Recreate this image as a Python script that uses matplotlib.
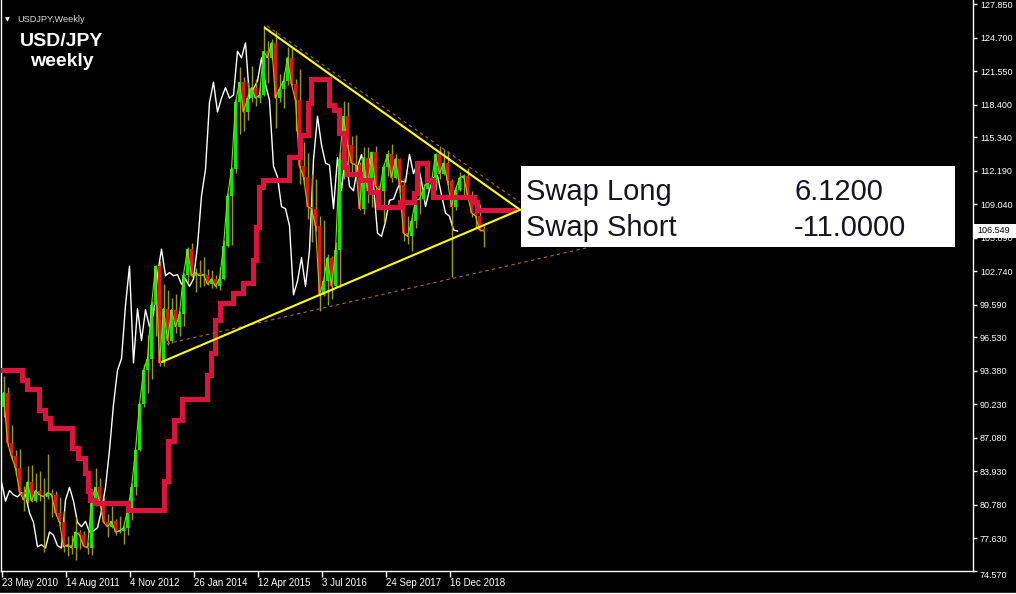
import numpy as np
import matplotlib
matplotlib.use("Agg")
import matplotlib.pyplot as plt
from matplotlib.patches import Rectangle
from matplotlib.lines import Line2D

plt.rcParams['font.family'] = ['Liberation Sans', 'DejaVu Sans']

# 4-week bars of USDJPY, first bar starts 23 May 2010 (x unit = weeks)
first_open = 90.0
highs = [92.9, 91.8, 88.3, 85.9, 86.0, 82.5, 84.4, 84.5, 83.7, 83.9,
         83.3, 85.5, 82.2, 82.1, 81.5, 80.2, 77.8, 77.9, 79.6, 78.4,
         78.3, 77.3, 81.4, 84.2, 83.3, 81.5, 79.9, 80.6, 79.4, 79.7,
         78.9, 80.7, 82.8, 86.0, 90.3, 94.0, 96.7, 99.9, 103.3, 103.7,
         101.5, 101.0, 100.2, 100.6, 99.0, 102.6, 105.0, 105.4, 103.0, 103.8,
         104.1, 102.9, 102.8, 102.4, 103.1, 105.7, 110.1, 112.5, 118.9, 121.9,
         121.0, 120.5, 122.0, 120.8, 120.5, 125.9, 124.4, 124.6, 125.3, 121.3,
         121.5, 123.8, 123.7, 120.8, 121.7, 114.9, 113.8, 111.9, 111.4, 107.9,
         107.5, 104.3, 104.2, 105.5, 113.9, 118.7, 118.6, 115.4, 115.5, 113.0,
         114.4, 114.4, 114.0, 114.5, 111.0, 112.7, 114.1, 114.7, 113.7, 113.4,
         111.5, 107.9, 107.8, 110.0, 111.4, 110.9, 113.2, 111.5, 113.8, 114.5,
         114.2, 114.0, 111.4, 110.6, 112.1, 111.9, 112.4, 110.3, 108.8, 109.0,
         107.0]
lows = [89.0, 86.3, 85.0, 83.6, 81.8, 80.2, 80.9, 81.0, 81.0, 81.1,
        76.3, 81.3, 79.6, 79.7, 78.9, 76.3, 75.9, 76.1, 75.6, 76.6,
        76.8, 76.1, 76.0, 80.6, 80.6, 79.0, 77.7, 78.6, 77.9, 78.1,
        77.1, 77.9, 79.3, 81.7, 85.8, 90.0, 91.3, 92.6, 96.6, 93.8,
        93.8, 95.8, 96.0, 96.9, 96.6, 97.6, 101.6, 102.2, 100.8, 101.2,
        101.3, 101.4, 101.1, 101.1, 101.0, 101.9, 105.0, 105.2, 112.0, 115.6,
        115.9, 116.9, 118.6, 118.3, 118.5, 119.2, 120.4, 122.6, 116.2, 118.6,
        118.1, 120.2, 120.2, 115.9, 110.9, 110.9, 107.6, 105.5, 106.5, 99.0,
        100.4, 99.5, 100.1, 101.2, 101.2, 111.4, 112.6, 111.6, 111.7, 108.5,
        108.1, 109.1, 108.8, 109.9, 108.6, 107.3, 111.7, 111.1, 111.4, 110.2,
        105.6, 105.3, 104.6, 106.8, 108.1, 109.4, 110.3, 109.8, 110.4, 111.4,
        111.8, 110.8, 102.2, 108.5, 110.3, 109.7, 109.5, 107.8, 106.8, 106.5,
        105.0]
closes = [91.3, 86.6, 85.3, 84.2, 82.0, 81.2, 82.9, 81.1, 82.1, 81.7,
          81.5, 81.9, 81.7, 80.0, 79.1, 76.8, 77.0, 76.7, 78.2, 77.9,
          76.9, 76.7, 81.2, 82.4, 81.1, 79.1, 78.7, 79.2, 78.2, 78.3,
          78.6, 80.2, 82.4, 85.9, 90.2, 93.4, 94.5, 99.5, 103.2, 94.1,
          99.2, 96.2, 99.1, 97.5, 98.7, 102.4, 104.8, 102.3, 102.6, 102.3,
          102.4, 101.5, 102.0, 101.3, 102.0, 105.1, 109.8, 112.3, 118.6, 120.5,
          117.7, 119.0, 120.0, 119.0, 119.3, 123.4, 122.8, 124.2, 119.0, 119.9,
          120.6, 122.8, 120.3, 118.8, 112.6, 111.6, 108.8, 108.6, 107.0, 100.5,
          101.8, 104.0, 101.3, 104.7, 113.2, 117.3, 114.6, 112.9, 112.7, 108.6,
          113.4, 110.3, 113.9, 110.7, 110.3, 112.5, 113.7, 111.5, 113.3, 110.8,
          106.3, 106.0, 107.4, 109.4, 109.5, 110.5, 111.2, 111.1, 113.7, 111.9,
          112.9, 111.2, 108.8, 110.4, 111.5, 111.7, 109.9, 108.2, 107.9, 106.6,
          106.5]

# thick crimson cloud line (steps), week index -> price
span_weeks = [0, 20, 25, 37, 43, 48, 70, 76, 83, 86, 88, 93, 126, 162, 166, 172,
              180, 205, 209, 213, 218, 231, 241, 251, 254, 257, 261, 287, 298, 306,
              309, 327, 332, 337, 342, 345, 358, 368, 376, 398, 412, 415, 425, 431,
              472, 475, 512]
span_vals = [93.4, 92.5, 91.6, 89.7, 88.9, 88.0, 86.1, 85.2, 83.7, 82.1, 81.2, 80.9,
             80.3, 83.0, 86.8, 88.7, 90.7, 93.0, 95.0, 98.1, 99.7, 100.7, 101.6,
             103.8, 106.9, 110.6, 111.3, 113.5, 115.5, 118.5, 120.8, 118.4, 117.9,
             115.7, 112.5, 111.9, 111.3, 110.2, 108.8, 109.2, 110.1, 112.9, 111.3,
             109.7, 109.2, 108.5, 108.5]

# drawn trendlines (week, price)
tri_upper = ([263, 518], [125.6, 108.5])
tri_lower = ([160, 518], [94.2, 108.5])
dash_upper = ([265, 518], [125.8, 109.2])
dash_lower = ([165, 588], [95.9, 105.0])

price_ticks = [127.850, 124.700, 121.550, 118.400, 115.340, 112.190, 109.040, 105.890,
               102.740, 99.590, 96.530, 93.380, 90.230, 87.080, 83.930, 80.780,
               77.630, 74.570]
date_weeks = [0, 64, 128, 192, 256, 320, 384, 448]
date_labels = ['23 May 2010', '14 Aug 2011', '4 Nov 2012', '26 Jan 2014',
               '12 Apr 2015', '3 Jul 2016', '24 Sep 2017', '16 Dec 2018']
last_price = 106.549

W, H = 1016, 594
fig = plt.figure(figsize=(W / 100, H / 100), dpi=100, facecolor='black')
ax = fig.add_axes([1 / W, 23 / H, 972 / W, 571 / H], facecolor='black')

highs = np.array(highs)
lows = np.array(lows)
closes = np.array(closes)
opens = np.r_[first_open, closes[:-1]]
x = np.arange(len(closes)) * 4 + 1.5
up = closes >= opens

# chikou-like white line (close shifted back 26 weeks)
ax.plot(x - 26, closes, color='white', lw=1, zorder=2)

# candles
ax.vlines(x, lows, highs, color='#9b9b10', lw=1, zorder=3)
body_col = np.where(up, '#00ee00', '#ee1010')
ax.bar(x, np.maximum(np.abs(closes - opens), 0.15), bottom=np.minimum(opens, closes),
       width=2.6, color=body_col, zorder=3, linewidth=0)
ax.plot(x, closes, color='#9acd32', lw=0.8, zorder=3)

ax.plot(span_weeks, span_vals, drawstyle='steps-post', color='#dc143c', lw=3.6,
        zorder=4, solid_joinstyle='miter')

ax.plot(*tri_upper, color='#ffff00', lw=1.5, zorder=5)
ax.plot(*tri_lower, color='#ffff00', lw=1.5, zorder=5)
ax.plot(*dash_upper, color='#9a6a4a', lw=0.8, ls=(0, (3, 3)), zorder=4)
ax.plot(*dash_lower, color='#9a6a4a', lw=0.8, ls=(0, (3, 3)), zorder=4)

ax.set_xlim(-1, 971)
ax.set_ylim(74.53, 128.23)

for side in ['top']:
    ax.spines[side].set_visible(False)
for side in ['left', 'right', 'bottom']:
    ax.spines[side].set_color('white')
    ax.spines[side].set_linewidth(1)

ax.yaxis.tick_right()
ax.set_yticks(price_ticks)
ax.set_yticklabels(['%.3f' % p for p in price_ticks])
ax.tick_params(axis='y', colors='white', length=3, width=1, pad=2, labelsize=6.5)
ax.get_yticklabels()[-1].set_verticalalignment('top')

ax.set_xticks(date_weeks)
ax.set_xticklabels(date_labels, ha='left')
ax.tick_params(axis='x', colors='white', length=4, width=1, pad=1, labelsize=7)


def fx(px):
    return px / W


def fy(py):
    return 1 - py / H


# swap info box
fig.patches.append(Rectangle((fx(521), fy(247)), (955 - 521) / W, (247 - 166) / H,
                             transform=fig.transFigure, facecolor='white',
                             edgecolor='none', zorder=10))
fig.text(fx(526), fy(192), 'Swap Long', fontsize=21, color='#15151f', va='center', zorder=11)
fig.text(fx(794), fy(192), '6.1200', fontsize=21, color='#15151f', va='center', zorder=11)
fig.text(fx(526), fy(228), 'Swap Short', fontsize=21, color='#15151f', va='center', zorder=11)
fig.text(fx(794), fy(228), '-11.0000', fontsize=21, color='#15151f', va='center', zorder=11)

# current price tag
fig.patches.append(Rectangle((fx(973), fy(238)), 43 / W, 14 / H, transform=fig.transFigure,
                             facecolor='white', edgecolor='none', zorder=10))
fig.text(fx(977), fy(231), '%.3f' % last_price, fontsize=6.5, color='black', va='center', zorder=11)

# header
fig.text(fx(5), fy(20), '\u25bc', fontsize=4.5, color='white', va='center',
         family=['DejaVu Sans'])
fig.text(fx(17), fy(20), 'USDJPY,Weekly', fontsize=6.6, color='#dddddd', va='center')
fig.text(fx(62), fy(41), 'USD/JPY', fontsize=14, fontweight='bold', color='white',
         ha='center', va='center')
fig.text(fx(62), fy(62), 'weekly', fontsize=14, fontweight='bold', color='white',
         ha='center', va='center')

fig.lines.append(Line2D([0, 1], [fy(592.5), fy(592.5)], transform=fig.transFigure,
                        color='white', lw=1))

fig.savefig('out.png', dpi=100, facecolor='black')
